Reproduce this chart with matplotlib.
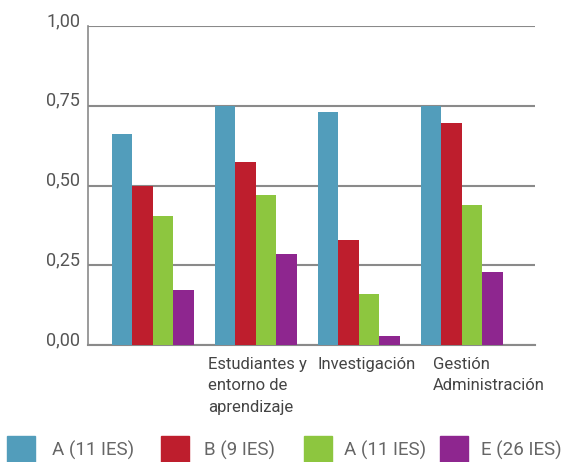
import numpy as np
import matplotlib.pyplot as plt
from matplotlib.patches import Rectangle

plt.rcParams['font.family'] = ['Roboto', 'DejaVu Sans']

categories = ['', 'Estudiantes y\nentorno de\naprendizaje', 'Investigación', 'Gestión\nAdministración']
series_names = ['A (11 IES)', 'B (9 IES)', 'A (11 IES)', 'E (26 IES)']
serie_a1 = [0.661, 0.749, 0.730, 0.750]
serie_b = [0.500, 0.574, 0.329, 0.696]
serie_a2 = [0.405, 0.470, 0.160, 0.439]
serie_e = [0.172, 0.285, 0.028, 0.229]
yticks = [0, 0.25, 0.5, 0.75, 1.0]
ytick_labels = ['0,00', '0,25', '0,50', '0,75', '1,00']

colors = ['#529DBB', '#BE1E2D', '#8DC63F', '#8E268F']
series = [serie_a1, serie_b, serie_a2, serie_e]

fig = plt.figure(figsize=(5.67, 4.62), dpi=100)
ax = fig.add_axes([0.155, 0.2532, 0.7886, 0.6905])

x = np.arange(len(categories))
w = 0.2
for i, (vals, c) in enumerate(zip(series, colors)):
    ax.bar(x - 1.5 * w + i * w, vals, width=w, color=c, zorder=3)

ax.set_ylim(0, 1)
ax.set_xlim(-0.63, 3.71)
ax.set_yticks(yticks)
ax.set_yticklabels(ytick_labels, fontsize=13, color='#555555')
for t in ax.get_yticklabels():
    t.set_va('baseline')
ax.tick_params(axis='y', length=0, pad=5.5)
ax.set_xticks([])
for y in yticks:
    ax.axhline(y, color='#8a8a8a', lw=1.5, zorder=1)
for s in ['top', 'right']:
    ax.spines[s].set_visible(False)
ax.spines['left'].set_color('#8a8a8a')
ax.spines['left'].set_linewidth(1.2)
ax.spines['bottom'].set_color('#8a8a8a')
ax.spines['bottom'].set_linewidth(1.5)

# category labels, left aligned, shifted a bit left of each group
label_shift = [-0.46, -0.465, -0.40, -0.28]
for i, lab in enumerate(categories):
    ax.text(i + label_shift[i], -0.036, lab, ha='left', va='top', fontsize=12,
            color='#444444', linespacing=1.55)

# legend drawn by hand (uneven spacing in the original)
sq_x = [7, 161, 304, 440]
txt_x = [52, 204, 344, 481]
W, H = 567.0, 462.0
for c, name, sx, tx in zip(colors, series_names, sq_x, txt_x):
    fig.patches.append(Rectangle((sx / W, 0), 28 / W, 26 / H, color=c,
                                 transform=fig.transFigure, figure=fig))
    fig.text(tx / W, 12 / H, name, ha='left', va='center', fontsize=13.5,
             color='#666666')

fig.savefig('out.png', dpi=100)
